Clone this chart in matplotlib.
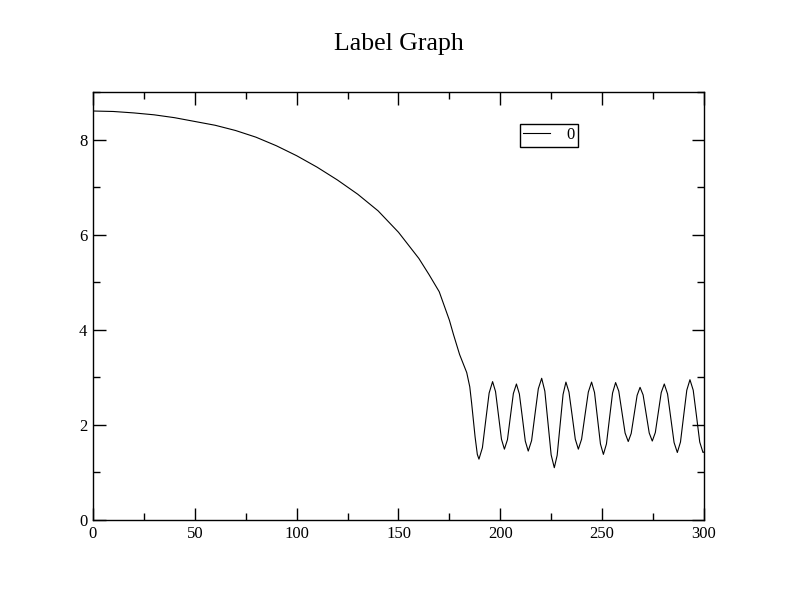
import matplotlib
matplotlib.use("Agg")
import matplotlib.pyplot as plt
from matplotlib.ticker import MultipleLocator

plt.rcParams['font.family'] = ['Liberation Serif', 'DejaVu Serif']

# smooth decay part
x_decay = [0, 10, 20, 30, 40, 50, 60, 70, 80, 90, 100, 110, 120, 130, 140,
           150, 160, 165, 170, 175, 177, 180, 183.5, 185, 185.9, 187.6, 188.7]
y_decay = [8.60, 8.59, 8.56, 8.52, 8.46, 8.38, 8.30, 8.19, 8.05, 7.87, 7.66,
           7.42, 7.15, 6.85, 6.50, 6.05, 5.50, 5.16, 4.80, 4.20, 3.90, 3.48,
           3.10, 2.80, 2.46, 1.75, 1.38]

# oscillating tail
x_osc = [189.5, 191.2, 192.85, 194.5, 196.2, 197.65, 199.1, 200.55,
         202.0, 203.5, 204.95, 206.4, 207.9, 209.35, 210.8, 212.25,
         213.7, 215.35, 217.0, 218.65, 220.3, 221.85, 223.4, 224.95,
         226.5, 227.9, 229.35, 230.8, 232.2, 233.7, 235.25, 236.8,
         238.3, 239.9, 241.55, 243.2, 244.8, 246.25, 247.7, 249.15,
         250.6, 252.1, 253.6, 255.1, 256.6, 258.15, 259.7, 261.25,
         262.8, 264.25, 265.7, 267.15, 268.6, 270.1, 271.6, 273.1,
         274.6, 276.1, 277.55, 279.0, 280.5, 282.1, 283.7, 285.3,
         286.9, 288.45, 290.0, 291.55, 293.1, 294.7, 296.3, 297.9,
         299.5, 300]
y_osc = [1.28, 1.52, 2.10, 2.67, 2.91, 2.70, 2.20, 1.70,
         1.49, 1.69, 2.18, 2.66, 2.86, 2.65, 2.16, 1.66,
         1.45, 1.67, 2.22, 2.76, 2.98, 2.71, 2.04, 1.37,
         1.10, 1.36, 2.00, 2.64, 2.90, 2.69, 2.20, 1.70,
         1.49, 1.70, 2.20, 2.69, 2.90, 2.68, 2.14, 1.60,
         1.38, 1.60, 2.14, 2.67, 2.89, 2.71, 2.27, 1.83,
         1.65, 1.82, 2.22, 2.62, 2.79, 2.63, 2.23, 1.83,
         1.66, 1.84, 2.26, 2.68, 2.86, 2.65, 2.14, 1.63,
         1.42, 1.64, 2.19, 2.73, 2.95, 2.73, 2.19, 1.64,
         1.42, 1.43]

x = x_decay + x_osc
y = y_decay + y_osc

fig = plt.figure(figsize=(7.92, 6.12), dpi=100)
ax = fig.add_axes([0.1174, 0.1503, 0.7715, 0.6994])

ax.plot(x, y, color='black', linewidth=0.8, label='0')

ax.set_xlim(0, 300)
ax.set_ylim(0, 9)
ax.xaxis.set_major_locator(MultipleLocator(50))
ax.xaxis.set_minor_locator(MultipleLocator(25))
ax.yaxis.set_major_locator(MultipleLocator(2))
ax.yaxis.set_minor_locator(MultipleLocator(1))
ax.tick_params(which='both', direction='in', top=True, right=True,
               width=1, labelsize=12)
ax.tick_params(which='major', length=9)
ax.tick_params(which='minor', length=4.8)
ax.tick_params(axis='x', pad=4.5)
ax.tick_params(axis='y', pad=4)
for s in ax.spines.values():
    s.set_linewidth(1)

fig.text(0.503, 0.928, 'Label Graph', ha='center', va='center', fontsize=18.5)

leg = ax.legend(loc='upper left', bbox_to_anchor=(0.6566, 0.7974),
                bbox_transform=fig.transFigure, borderaxespad=0,
                fontsize=12, handlelength=1.6, handletextpad=1.0,
                borderpad=0.2, fancybox=False, framealpha=1)
leg.get_frame().set_edgecolor('black')
leg.get_frame().set_linewidth(1)

fig.savefig('out.png', dpi=100)
